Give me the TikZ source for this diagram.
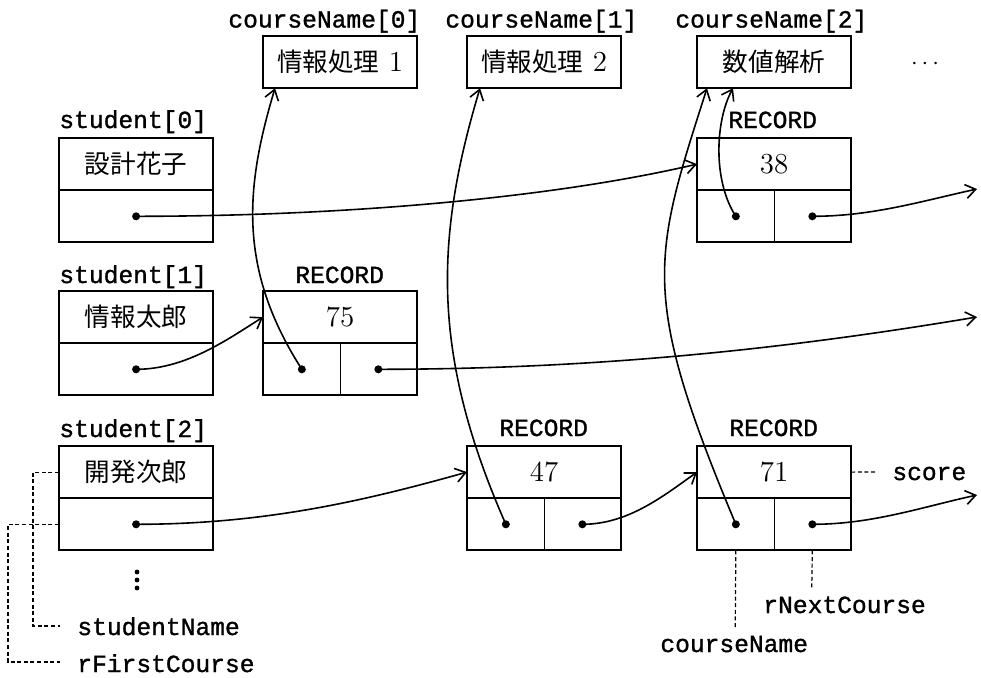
\documentclass[tikz,border=0pt]{standalone}
\usepackage{fontspec}
\setmonofont{Liberation Mono}[FakeBold=1.2]
\newfontfamily\cjk{Noto Sans CJK JP}
\usetikzlibrary{arrows.meta}
\newcommand\jtext[1]{{\fontsize{12.8}{15}\cjk #1}}

\tikzset{
  cell/.style={draw, line width=0.6pt, inner sep=0pt, minimum height=25.5pt,
               font=\fontsize{14.5}{16}\selectfont},
  wide/.style={cell, minimum width=76.5pt},
  half/.style={cell, minimum width=38.25pt},
  frame/.style={line width=0.9pt},
  lbl/.style={font=\fontsize{12.3}{14}\ttfamily, inner sep=0pt, anchor=base west},
  ptr/.style={line width=0.8pt, -{Straight Barb[length=5pt,width=7pt]}},
  dotmark/.style={circle, fill, inner sep=0pt, minimum size=4pt},
  smalldot/.style={circle, fill, inner sep=0pt, minimum size=2.4pt},
  lead/.style={line width=0.6pt, dash pattern=on 2pt off 1.3pt},
}

\begin{document}
\begin{tikzpicture}[x=0.5pt, y=-0.5pt]
\useasboundingbox (0,0) rectangle (981,677);

% ---- course name table ----
\node[wide, anchor=north west] (c0) at (263,36) {\jtext{情報処理} 1};
\node[wide, anchor=north west] (c1) at (467,36) {\jtext{情報処理} 2};
\node[wide, anchor=north west] (c2) at (697,36) {\jtext{数値解析}};
\foreach \c in {c0,c1,c2} \draw[frame] (\c.north west) rectangle (\c.south east);
\node[lbl] (lc0) at (228,27.5) {courseName[0]};
\node[lbl] (lc1) at (445,27.5) {courseName[1]};
\node[lbl] (lc2) at (675,27.5) {courseName[2]};
\node[inner sep=0pt, font=\fontsize{11.5}{13}\selectfont] (cmore) at (925,64) {$\cdots$};

% ---- student table ----
\node[wide, anchor=north west] (s0n) at (59,138) {\jtext{設計花子}};
\node[wide, anchor=north] (s0p) at (s0n.south) {};
\node[wide, anchor=north west] (s1n) at (59,291) {\jtext{情報太郎}};
\node[wide, anchor=north] (s1p) at (s1n.south) {};
\node[wide, anchor=north west] (s2n) at (59,446) {\jtext{開発次郎}};
\node[wide, anchor=north] (s2p) at (s2n.south) {};
\foreach \s in {s0,s1,s2} \draw[frame] (\s n.north west) rectangle (\s p.south east);
\node[lbl] (ls0) at (59,128) {student[0]};
\node[lbl] (ls1) at (59,283) {student[1]};
\node[lbl] (ls2) at (59,437) {student[2]};
% more students follow
\foreach \y in {572,580,588} \node[smalldot] at (137,\y) {};

% ---- records ----
\node[wide, anchor=north west] (r75) at (263,291) {75};
\node[wide, anchor=north west] (r38) at (697,138) {38};
\node[wide, anchor=north west] (r47) at (467,446) {47};
\node[wide, anchor=north west] (r71) at (697,446) {71};
\foreach \r in {r75,r38,r47,r71} {
  \node[half, anchor=north west] (\r a) at (\r.south west) {};
  \node[half, anchor=north east] (\r b) at (\r.south east) {};
  \draw[frame] (\r.north west) rectangle (\r b.south east);
}
\node[lbl] (lr75) at (295,283) {RECORD};
\node[lbl] (lr38) at (728,128) {RECORD};
\node[lbl] (lr47) at (499,436) {RECORD};
\node[lbl] (lr71) at (729,436) {RECORD};

% ---- arrow targets ----
\coordinate (t0) at ([xshift=6pt]c0.south west);
\coordinate (t1) at ([xshift=6.5pt]c1.south west);
\coordinate (t2) at ([xshift=5pt]c2.south west);
\coordinate (t3) at ([xshift=18pt]c2.south west);
\coordinate (e1) at (977,189);
\coordinate (e2) at (977,317);
\coordinate (e3) at (977,495);

% ---- pointers from students to first records ----
\draw[ptr] (s0p.center) .. controls +(200,0) and +(-150,35) .. (r38.west);
\draw[ptr] (s1p.center) .. controls +(50,0) and +(-35,22) .. (r75.west);
\draw[ptr] (s2p.center) .. controls +(130,0) and +(-100,28) .. (r47.west);

% ---- next-course pointers ----
\draw[ptr] (r47b.center) .. controls +(45,0) and +(-35,25) .. (r71.west);
\draw[ptr] (r38b.center) .. controls +(60,0) and +(-55,12) .. (e1);
\draw[ptr] (r75b.center) .. controls +(250,0) and +(-150,25) .. (e2);
\draw[ptr] (r71b.center) .. controls +(60,0) and +(-55,12) .. (e3);

% ---- course name pointers ----
\draw[ptr] (r75a.center) .. controls +(-64,-100) and +(-30,100) .. (t0);
\draw[ptr] (r47a.center) .. controls +(-75,-170) and +(-45,150) .. (t1);
\draw[ptr] (r71a.center) .. controls +(-96.6,-230) and +(-54.4,170) .. (t2);
\draw[ptr] (r38a.center) .. controls +(-23,-35) and +(-18,33) .. (t3);

% ---- pointer origins ----
\foreach \p in {s0p,s1p,s2p,r75a,r75b,r38a,r38b,r47a,r47b,r71a,r71b}
  \node[dotmark] at (\p.center) {};

% ---- field name leaders ----
\coordinate (k1) at (33,626);
\coordinate (k1e) at (60,626);
\coordinate (k2) at (8,662);
\coordinate (k2e) at (60,662);
\coordinate (k3) at (877,472);
\coordinate (k4) at (735.25,628);
\coordinate (k5) at (811.75,589);
\draw[lead] (s2n.west) -| (k1) -- (k1e);
\draw[lead] (s2p.west) -| (k2) -- (k2e);
\draw[lead] (r71.east) -- (k3);
\draw[lead] (r71a.south) -- (k4);
\draw[lead] (r71b.south) -- (k5);
\node[lbl] (fsn) at (77,635) {studentName};
\node[lbl] (ffc) at (77,672) {rFirstCourse};
\node[lbl] (fsc) at (892,480) {score};
\node[lbl] (fcn) at (660,652) {courseName};
\node[lbl] (fnc) at (763,613) {rNextCourse};
\end{tikzpicture}
\end{document}
